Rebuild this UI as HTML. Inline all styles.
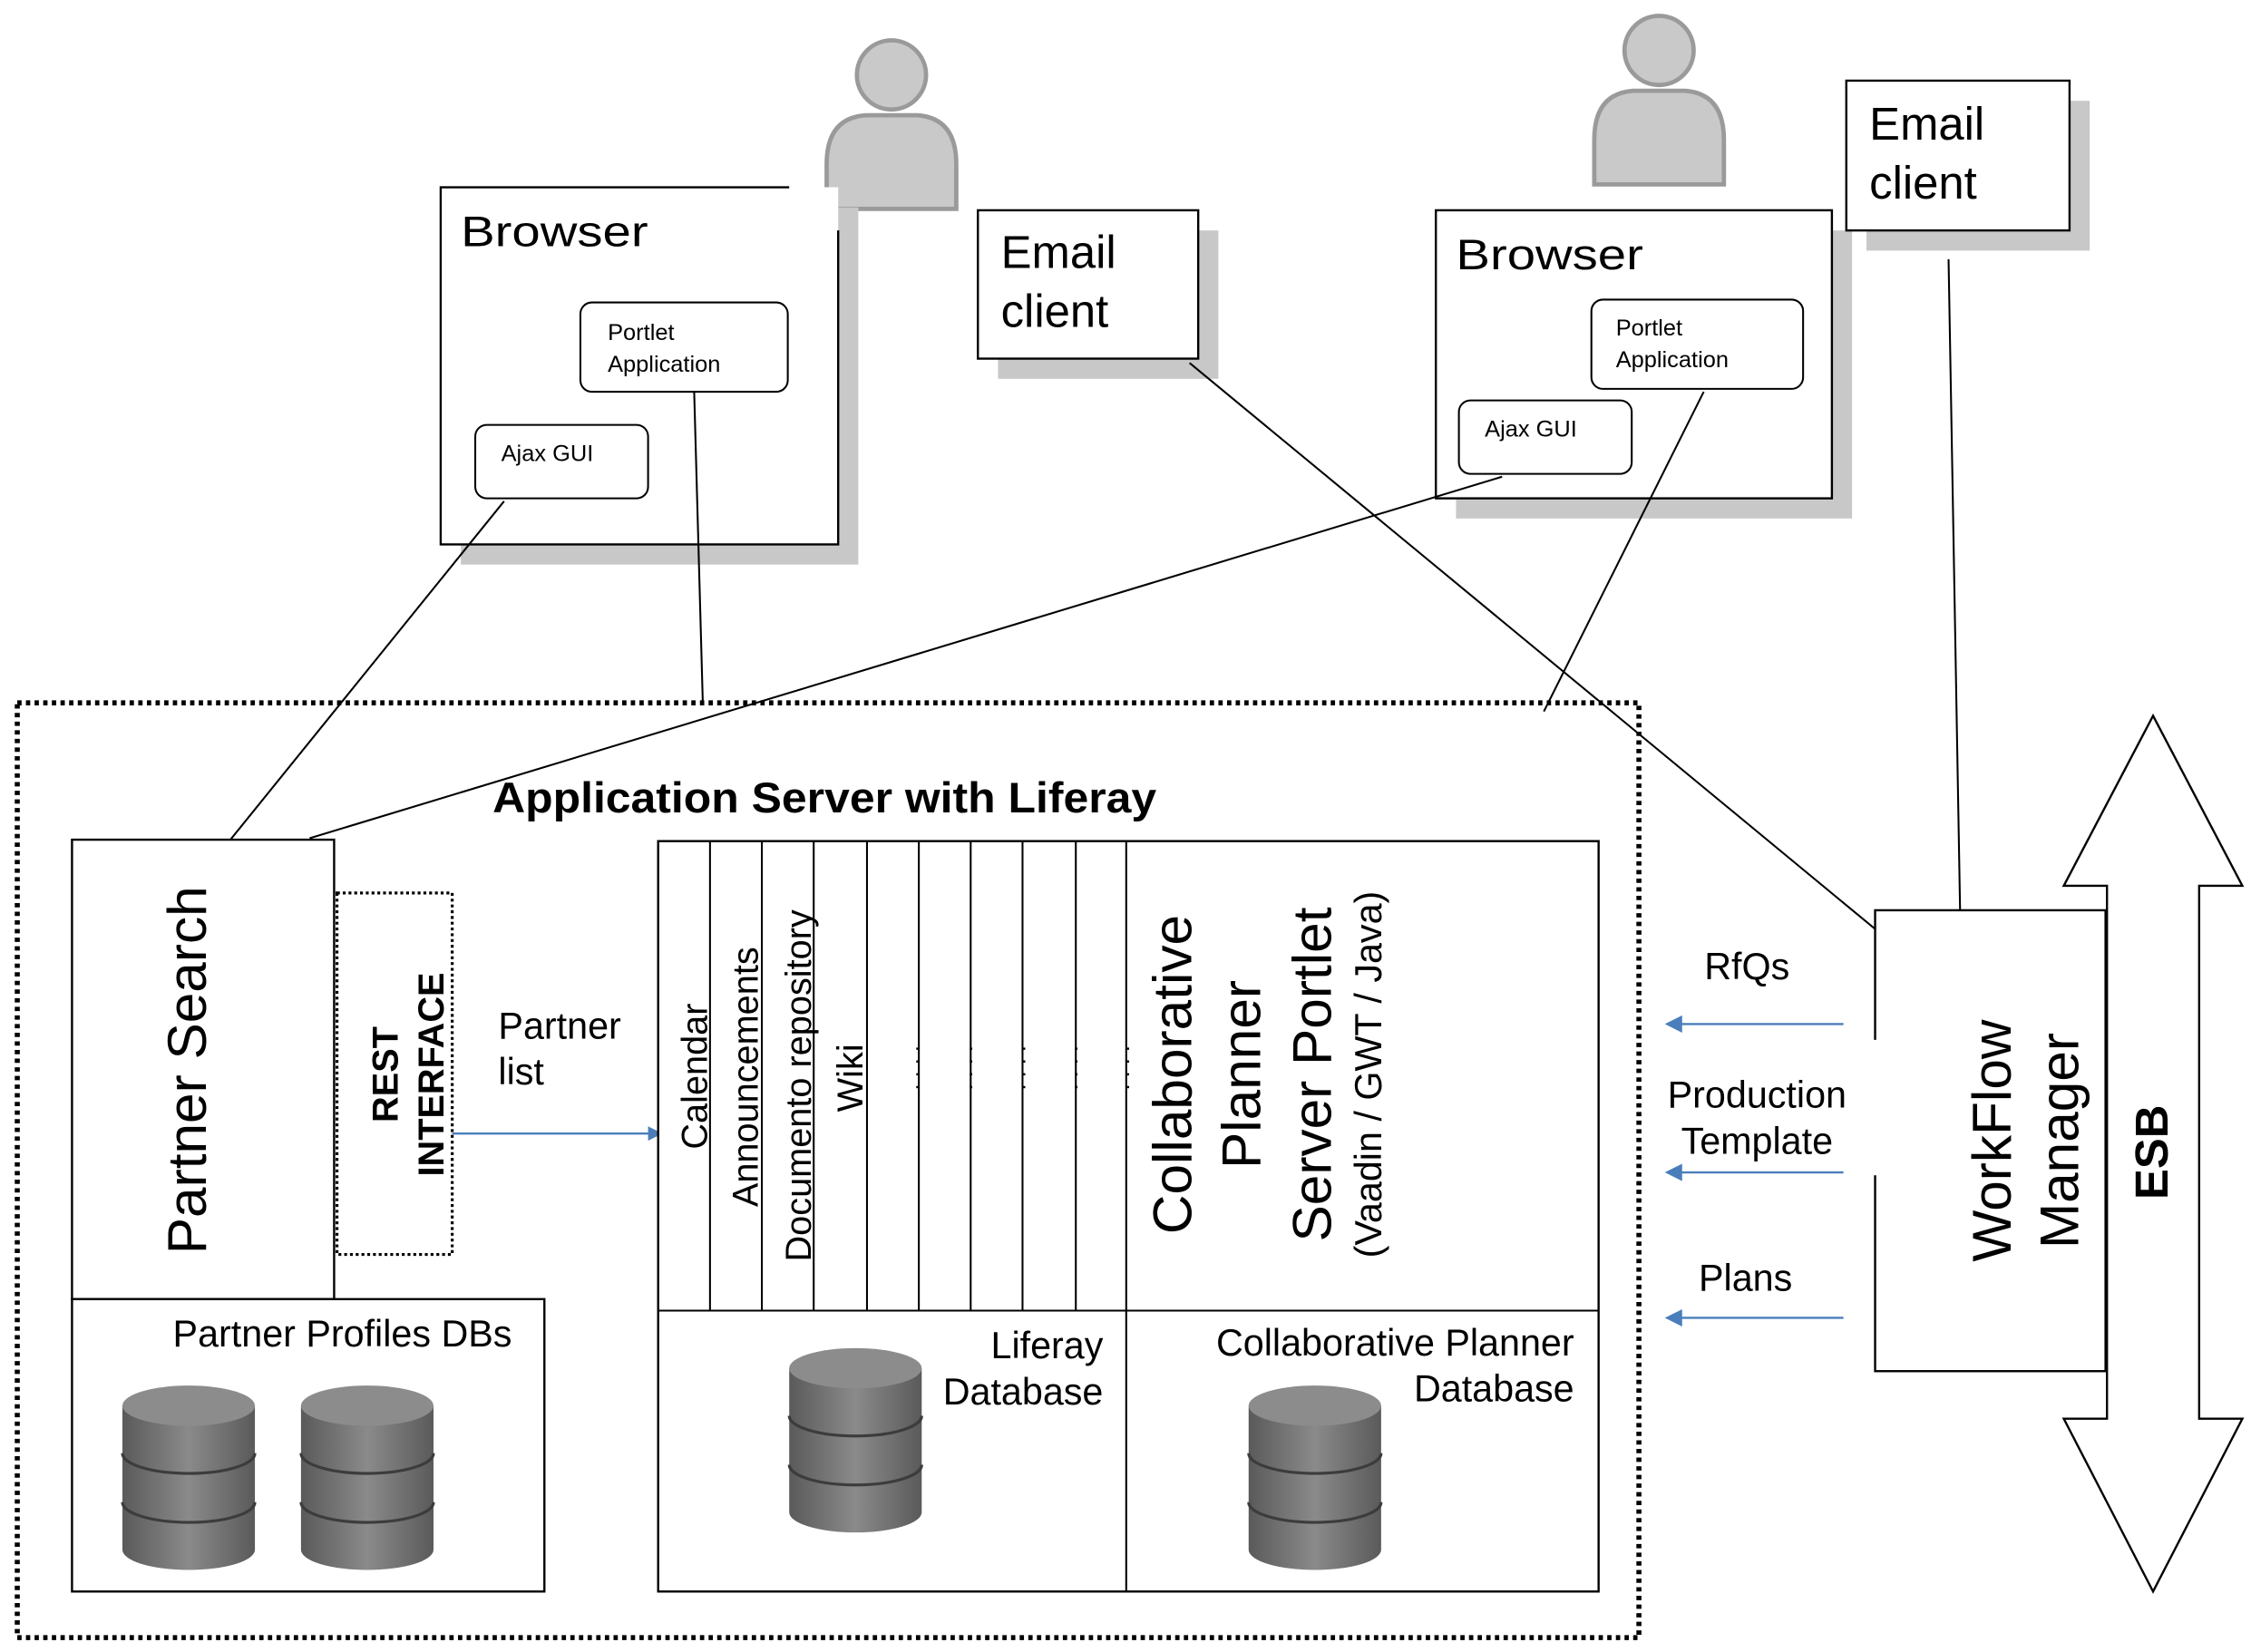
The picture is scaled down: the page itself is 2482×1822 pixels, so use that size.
<!DOCTYPE html>
<html><head><meta charset="utf-8"><style>html,body{margin:0;padding:0;background:#fff}svg{display:block}text{font-family:"Liberation Sans",sans-serif;fill:#000}</style></head>
<body>
<svg width="2482" height="1822" viewBox="0 0 1563 1147" preserveAspectRatio="none" xmlns="http://www.w3.org/2000/svg">
<defs>
<linearGradient id="db" x1="0" x2="1" y1="0" y2="0"><stop offset="0" stop-color="#5a5a5a"/><stop offset="0.5" stop-color="#8a8a8a"/><stop offset="1" stop-color="#5a5a5a"/></linearGradient>
<g id="cyl">
<path d="M-46,-50 L-46,50 A46,14 0 0 0 46,50 L46,-50 Z" fill="url(#db)"/>
<ellipse cx="0" cy="-50" rx="46" ry="14" fill="#8c8c8c"/>
<path d="M-46,-17 A46,14 0 0 0 46,-17 M-46,17 A46,14 0 0 0 46,17" fill="none" stroke="#3c3c3c" stroke-width="2"/>
</g>
<g id="person">
<circle cx="0" cy="0" r="24" fill="#c9c9c9" stroke="#9a9a9a" stroke-width="3"/>
<path d="M-45,93 L-45,62 Q-45,30 -18,28 L18,28 Q45,30 45,62 L45,93 Z" fill="#c9c9c9" stroke="#9a9a9a" stroke-width="3"/>
</g>
</defs>

<use href="#person" x="619" y="52"/>
<use href="#person" x="1152" y="35"/>

<!-- Browser 1 -->
<rect x="320" y="144" width="276" height="248" fill="#c8c8c8"/>
<rect x="306" y="130" width="276" height="248" fill="#fff"/>
<path d="M548,130 L306,130 L306,378 L582,378 L582,160" fill="none" stroke="#000" stroke-width="1.5"/>
<text x="320" y="171" font-size="30" textLength="130" lengthAdjust="spacingAndGlyphs">Browser</text>
<rect x="403" y="210" width="144" height="62" rx="8" fill="#fff" stroke="#000" stroke-width="1.3"/>
<text x="422" y="236" font-size="16">Portlet</text><text x="422" y="258" font-size="16">Application</text>
<rect x="330" y="295" width="120" height="51" rx="8" fill="#fff" stroke="#000" stroke-width="1.3"/>
<text x="348" y="320" font-size="16">Ajax GUI</text>

<!-- Email client 1 -->
<rect x="693" y="160" width="153" height="103" fill="#c8c8c8"/>
<rect x="679" y="146" width="153" height="103" fill="#fff" stroke="#000" stroke-width="1.5"/>
<text x="695" y="186" font-size="32">Email</text><text x="695" y="227" font-size="32">client</text>

<!-- Browser 2 -->
<rect x="1011" y="160" width="275" height="200" fill="#c8c8c8"/>
<rect x="997" y="146" width="275" height="200" fill="#fff" stroke="#000" stroke-width="1.5"/>
<text x="1011" y="187" font-size="30" textLength="130" lengthAdjust="spacingAndGlyphs">Browser</text>
<rect x="1105" y="208" width="147" height="62" rx="8" fill="#fff" stroke="#000" stroke-width="1.3"/>
<text x="1122" y="233" font-size="16">Portlet</text><text x="1122" y="255" font-size="16">Application</text>
<rect x="1013" y="278" width="120" height="51" rx="8" fill="#fff" stroke="#000" stroke-width="1.3"/>
<text x="1031" y="303" font-size="16">Ajax GUI</text>

<!-- Email client 2 -->
<rect x="1296" y="70" width="155" height="104" fill="#c8c8c8"/>
<rect x="1282" y="56" width="155" height="104" fill="#fff" stroke="#000" stroke-width="1.5"/>
<text x="1298" y="97" font-size="32">Email</text><text x="1298" y="138" font-size="32">client</text>

<g stroke="#000" stroke-width="1.3" fill="none">
<line x1="350" y1="348" x2="160" y2="583"/>
<line x1="482" y1="272" x2="488" y2="488"/>
<line x1="1043" y1="331" x2="215" y2="582"/>
<line x1="826" y1="252" x2="1302" y2="645"/>
<line x1="1183" y1="272" x2="1072" y2="494"/>
<line x1="1353" y1="180" x2="1361" y2="632"/>
</g>

<rect x="12" y="488" width="1126" height="649" fill="none" stroke="#000" stroke-width="3.5" stroke-dasharray="3,3"/>
<text x="342" y="564" font-size="30" font-weight="bold" textLength="461" lengthAdjust="spacingAndGlyphs">Application Server with Liferay</text>

<rect x="50" y="583" width="182" height="319" fill="#fff" stroke="#000" stroke-width="1.5"/>
<text transform="translate(143,743) rotate(-90)" font-size="38" text-anchor="middle">Partner Search</text>
<rect x="234" y="620" width="80" height="251" fill="#fff" stroke="#000" stroke-width="2" stroke-dasharray="2,2"/>
<text transform="translate(276,746) rotate(-90)" font-size="25" font-weight="bold" text-anchor="middle">REST</text>
<text transform="translate(308,746) rotate(-90)" font-size="25" font-weight="bold" text-anchor="middle">INTERFACE</text>
<text x="346" y="721" font-size="26">Partner</text><text x="346" y="753" font-size="26">list</text>
<line x1="314" y1="787" x2="452" y2="787" stroke="#4a7ebb" stroke-width="1.5"/>
<path d="M460,787 L450,782 L450,792 Z" fill="#4a7ebb"/>
<rect x="50" y="902" width="328" height="203" fill="#fff" stroke="#000" stroke-width="1.5"/>
<text x="120" y="935" font-size="26">Partner  Profiles DBs</text>
<use href="#cyl" x="131" y="1026"/>
<use href="#cyl" x="255" y="1026"/>

<rect x="457" y="584" width="653" height="521" fill="#fff" stroke="#000" stroke-width="1.5"/>
<g stroke="#000" stroke-width="1.3">
<line x1="457" y1="910" x2="1110" y2="910"/>
<line x1="782" y1="584" x2="782" y2="1105"/>
<line x1="493" y1="584" x2="493" y2="910"/><line x1="529" y1="584" x2="529" y2="910"/>
<line x1="565" y1="584" x2="565" y2="910"/><line x1="602" y1="584" x2="602" y2="910"/>
<line x1="638" y1="584" x2="638" y2="910"/><line x1="674" y1="584" x2="674" y2="910"/>
<line x1="710" y1="584" x2="710" y2="910"/><line x1="747" y1="584" x2="747" y2="910"/>
</g>
<g font-size="25">
<text transform="translate(491,798) rotate(-90)">Calendar</text>
<text transform="translate(526,838) rotate(-90)">Announcements</text>
<text transform="translate(563,876) rotate(-90)">Documento repository</text>
<text transform="translate(599,772) rotate(-90)">Wiki</text>
</g>
<g font-size="16">
<text transform="translate(638,757) rotate(-90)">. . . .</text>
<text transform="translate(675,757) rotate(-90)">. . . .</text>
<text transform="translate(712,757) rotate(-90)">. . . .</text>
<text transform="translate(748,757) rotate(-90)">. . . .</text>
<text transform="translate(784,757) rotate(-90)">. . . .</text>
</g>
<text transform="translate(827,746) rotate(-90)" font-size="38" text-anchor="middle">Collaborative</text>
<text transform="translate(875,746) rotate(-90)" font-size="38" text-anchor="middle">Planner</text>
<text transform="translate(924,746) rotate(-90)" font-size="38" text-anchor="middle">Server Portlet</text>
<text transform="translate(959,746) rotate(-90)" font-size="26" text-anchor="middle">(Vaadin / GWT / Java)</text>
<text x="766" y="943" font-size="26" text-anchor="end">Liferay</text>
<text x="766" y="975" font-size="26" text-anchor="end">Database</text>
<use href="#cyl" x="594" y="1000"/>
<text x="1093" y="941" font-size="26" text-anchor="end">Collaborative Planner</text>
<text x="1093" y="973" font-size="26" text-anchor="end">Database</text>
<use href="#cyl" x="913" y="1026"/>

<polygon points="1495,497 1557,615 1527,615 1527,985 1557,985 1495,1105 1433,985 1463,985 1463,615 1433,615" fill="#fff" stroke="#000" stroke-width="1.5"/>
<text transform="translate(1505,800) rotate(-90)" font-size="32" font-weight="bold" text-anchor="middle">ESB</text>

<rect x="1302" y="632" width="160" height="320" fill="#fff" stroke="#000" stroke-width="1.5"/>
<text transform="translate(1396,792) rotate(-90)" font-size="38" text-anchor="middle">WorkFlow</text>
<text transform="translate(1443,792) rotate(-90)" font-size="38" text-anchor="middle">Manager</text>
<rect x="1284" y="722" width="20" height="94" fill="#fff"/>

<text x="1213" y="680" font-size="26" text-anchor="middle">RfQs</text>
<text x="1220" y="769" font-size="26" text-anchor="middle">Production</text>
<text x="1220" y="801" font-size="26" text-anchor="middle">Template</text>
<text x="1212" y="896" font-size="26" text-anchor="middle">Plans</text>
<g stroke="#4a7ebb" stroke-width="1.5">
<line x1="1280" y1="711" x2="1165" y2="711"/><line x1="1280" y1="814" x2="1165" y2="814"/><line x1="1280" y1="915" x2="1165" y2="915"/>
</g>
<g fill="#4a7ebb">
<path d="M1156,711 L1168,705 L1168,717 Z"/><path d="M1156,814 L1168,808 L1168,820 Z"/><path d="M1156,915 L1168,909 L1168,921 Z"/>
</g>
</svg>
</body></html>
